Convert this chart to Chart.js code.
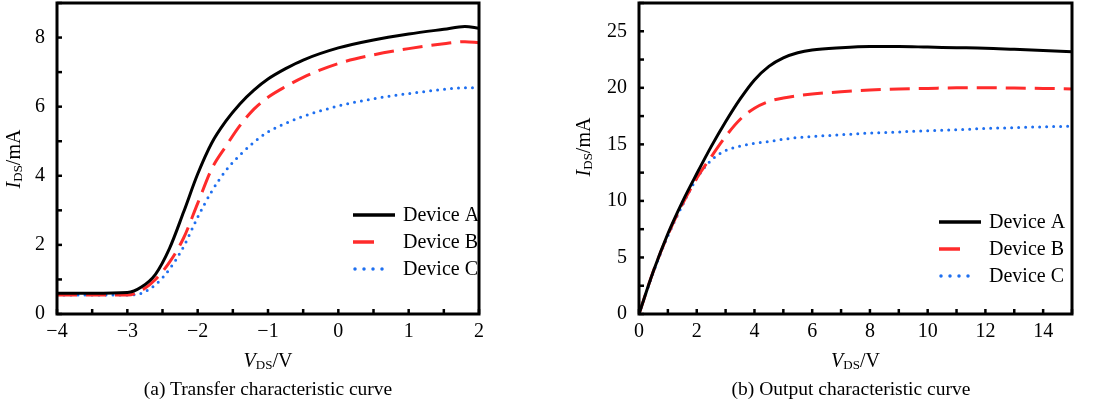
<!DOCTYPE html>
<html>
<head>
<meta charset="utf-8">
<script src="https://cdn.jsdelivr.net/npm/chart.js@4.4.1/dist/chart.umd.min.js"></script>
<style>
  body { margin: 0; background: #fff; }
  #wrap { position: relative; width: 1110px; height: 416px; overflow: hidden; }
  canvas { position: absolute; top: 0; }
  .cap { position: absolute; top: 378px; font: 19.5px "Liberation Serif", serif; color: #000; text-align: center; width: 400px; }
</style>
</head>
<body>
<div id="wrap">
  <canvas id="transfer" width="555" height="416" style="left:0"></canvas>
  <canvas id="output" width="555" height="416" style="left:555px"></canvas>
  <div class="cap" style="left:68px">(a) Transfer characteristic curve</div>
  <div class="cap" style="left:651px">(b) Output characteristic curve</div>
</div>
<script>
// (a) transfer curve, V from -4 to 2
const transferV = [-4, -3.5, -3.0, -2.8, -2.6, -2.4, -2.2, -2.0, -1.8, -1.6, -1.4, -1.2, -1.0, -0.75, -0.5, 0, 0.5, 1.0, 1.5, 1.8, 2.0];
const transferA = [0.6, 0.6, 0.62, 0.78, 1.15, 1.9, 2.95, 4.05, 4.95, 5.58, 6.08, 6.48, 6.8, 7.1, 7.35, 7.7, 7.93, 8.1, 8.24, 8.32, 8.27];
const transferB = [0.55, 0.55, 0.55, 0.68, 1.0, 1.5, 2.2, 3.2, 4.2, 4.85, 5.45, 5.93, 6.27, 6.58, 6.85, 7.25, 7.5, 7.68, 7.82, 7.88, 7.85];
const transferC = [0.55, 0.55, 0.55, 0.6, 0.85, 1.3, 1.95, 2.8, 3.55, 4.15, 4.6, 4.97, 5.27, 5.52, 5.72, 6.02, 6.23, 6.38, 6.5, 6.55, 6.55];
const transferXTicks = [-4, -3, -2, -1, 0, 1, 2];
const transferYTicks = [0, 2, 4, 6, 8];

// (b) output curve, V from 0 to 15
const outputV = [0, 0.5, 1, 1.5, 2, 2.5, 3, 3.5, 4, 4.5, 5, 5.5, 6, 7, 8, 9, 10, 11, 12, 13, 14, 15];
const outputA = [0, 3.8, 7.1, 9.9, 12.4, 14.8, 17.0, 19.0, 20.7, 21.9, 22.65, 23.1, 23.35, 23.55, 23.65, 23.65, 23.6, 23.55, 23.5, 23.4, 23.3, 23.2];
const outputB = [0, 3.8, 7.0, 9.7, 12.0, 13.9, 15.7, 17.2, 18.2, 18.8, 19.1, 19.3, 19.45, 19.65, 19.8, 19.9, 19.95, 20.0, 20.0, 19.98, 19.95, 19.9];
const outputC = [0, 3.7, 6.9, 9.6, 12.0, 13.6, 14.45, 14.85, 15.1, 15.25, 15.45, 15.6, 15.7, 15.85, 16.0, 16.1, 16.2, 16.3, 16.4, 16.48, 16.55, 16.6];
const outputXTicks = [0, 2, 4, 6, 8, 10, 12, 14];
const outputYTicks = [0, 5, 10, 15, 20, 25];

const deviceNames = ["Device A", "Device B", "Device C"];

const FONT = '"Liberation Serif", serif';

function pts(xs, ys) {
    return xs.map((x, i) => ({x: x, y: ys[i]}));
}

function makeSets(xs, a, b, c) {
    return [
        {label: deviceNames[0], data: pts(xs, a), borderColor: '#000', borderWidth: 3,
         legendDash: [], legendLen: 42},
        {label: deviceNames[1], data: pts(xs, b), borderColor: '#ff2b2b', borderWidth: 3, borderDash: [20, 9],
         legendDash: [21, 100], legendLen: 42},
        {label: deviceNames[2], data: pts(xs, c), borderColor: '#1e6ff0', borderWidth: 3, borderDash: [0, 7],
         borderCapStyle: 'round', legendDash: [0, 9], legendLen: 38, legendCap: 'round'},
    ].map(d => Object.assign(d, {showLine: true, pointRadius: 0, cubicInterpolationMode: 'monotone', fill: false}));
}

function fmt(v) {
    return v < 0 ? '\u2212' + Math.abs(v) : String(v);
}

// draws parts like I + subscript DS + /mA
function drawSubText(ctx, x, y, rot) {
    const parts = [
        {t: 'I', f: 'italic 20px ' + FONT, dy: 0},
        {t: 'DS', f: '13px ' + FONT, dy: 4},
        {t: '/mA', f: '20px ' + FONT, dy: 0},
    ];
    if (rot === 0) {
        parts[0].t = 'V';
        parts[2].t = '/V';
    }
    let w = 0;
    parts.forEach(p => { ctx.font = p.f; p.w = ctx.measureText(p.t).width; w += p.w; });
    ctx.save();
    ctx.translate(x, y);
    ctx.rotate(rot);
    ctx.fillStyle = '#000';
    ctx.textBaseline = 'middle';
    ctx.textAlign = 'left';
    let cx = -w / 2;
    parts.forEach(p => { ctx.font = p.f; ctx.fillText(p.t, cx, p.dy); cx += p.w; });
    ctx.restore();
}

const framePlugin = {
    id: 'frame',
    afterDatasetsDraw(chart, args, o) {
        const ctx = chart.ctx;
        const a = chart.chartArea;
        const x = chart.scales.x, y = chart.scales.y;
        ctx.save();
        ctx.strokeStyle = '#000';
        ctx.lineWidth = 2.5;
        // inward ticks on bottom and left axis
        for (let v = x.min; v <= x.max + 1e-6; v += o.xMinor) {
            const px = x.getPixelForValue(v);
            ctx.beginPath(); ctx.moveTo(px, a.bottom); ctx.lineTo(px, a.bottom - 5); ctx.stroke();
        }
        for (let v = y.min; v <= y.max + 1e-6; v += o.yMinor) {
            const py = y.getPixelForValue(v);
            ctx.beginPath(); ctx.moveTo(a.left, py); ctx.lineTo(a.left + 5, py); ctx.stroke();
        }
        ctx.lineWidth = 3;
        ctx.strokeRect(a.left, a.top, a.right - a.left, a.bottom - a.top);

        // legend inside plot
        const lx = a.right - o.legendRight, ly = a.bottom - o.legendBottom;
        chart.data.datasets.forEach((ds, i) => {
            const yy = ly + i * 27;
            ctx.setLineDash(ds.legendDash);
            ctx.lineCap = ds.legendCap || 'butt';
            ctx.strokeStyle = ds.borderColor;
            ctx.lineWidth = 3.5;
            ctx.beginPath(); ctx.moveTo(lx + (ds.legendCap ? 2 : 0), yy); ctx.lineTo(lx + ds.legendLen, yy); ctx.stroke();
            ctx.setLineDash([]);
            ctx.fillStyle = '#000';
            ctx.font = '20px ' + FONT;
            ctx.textBaseline = 'middle';
            ctx.textAlign = 'left';
            ctx.fillText(ds.label, lx + 50, yy + 1);
        });

        // axis titles
        drawSubText(ctx, (a.left + a.right) / 2, a.bottom + 48, 0);
        drawSubText(ctx, a.left - o.yTitleOff, o.yTitleY, -Math.PI / 2);
        ctx.restore();
    }
};

function renderChart(id, sets, xr, yr, xTicks, yTicks, yWidth, padRight, frame) {
    const ctx = document.getElementById(id).getContext('2d');
    const tickFont = {family: FONT, size: 20};
    return new Chart(ctx, {
        type: 'scatter',
        data: {datasets: sets},
        options: {
            responsive: false,
            animation: false,
            devicePixelRatio: 1,
            layout: {padding: {left: 0, right: padRight, top: 3, bottom: 0}},
            plugins: {legend: {display: false}, tooltip: {enabled: false}, frame: frame},
            scales: {
                x: {
                    type: 'linear', min: xr[0], max: xr[1],
                    grid: {display: false, drawTicks: false}, border: {display: false},
                    ticks: {color: '#000', font: tickFont, padding: 6, maxRotation: 0, callback: v => fmt(v)},
                    afterBuildTicks: s => { s.ticks = xTicks.map(v => ({value: v})); },
                    afterFit: s => { s.height = 102; s.paddingLeft = 0; s.paddingRight = 0; }
                },
                y: {
                    type: 'linear', min: yr[0], max: yr[1],
                    grid: {display: false, drawTicks: false}, border: {display: false},
                    ticks: {color: '#000', font: tickFont, padding: 12, callback: v => fmt(v)},
                    afterBuildTicks: s => { s.ticks = yTicks.map(v => ({value: v})); },
                    afterFit: s => { s.width = yWidth; s.paddingTop = 0; s.paddingBottom = 0; }
                }
            }
        },
        plugins: [framePlugin]
    });
}

renderChart('transfer', makeSets(transferV, transferA, transferB, transferC),
    [-4, 2], [0, 9], transferXTicks, transferYTicks, 57, 76,
    {xMinor: 0.5, yMinor: 1, legendRight: 126, legendBottom: 99, yTitleOff: 42, yTitleY: 159});

renderChart('output', makeSets(outputV, outputA, outputB, outputC),
    [0, 15], [0, 27.5], outputXTicks, outputYTicks, 84, 38,
    {xMinor: 1, yMinor: 2.5, legendRight: 133, legendBottom: 92, yTitleOff: 54, yTitleY: 147});
</script>
</body>
</html>
